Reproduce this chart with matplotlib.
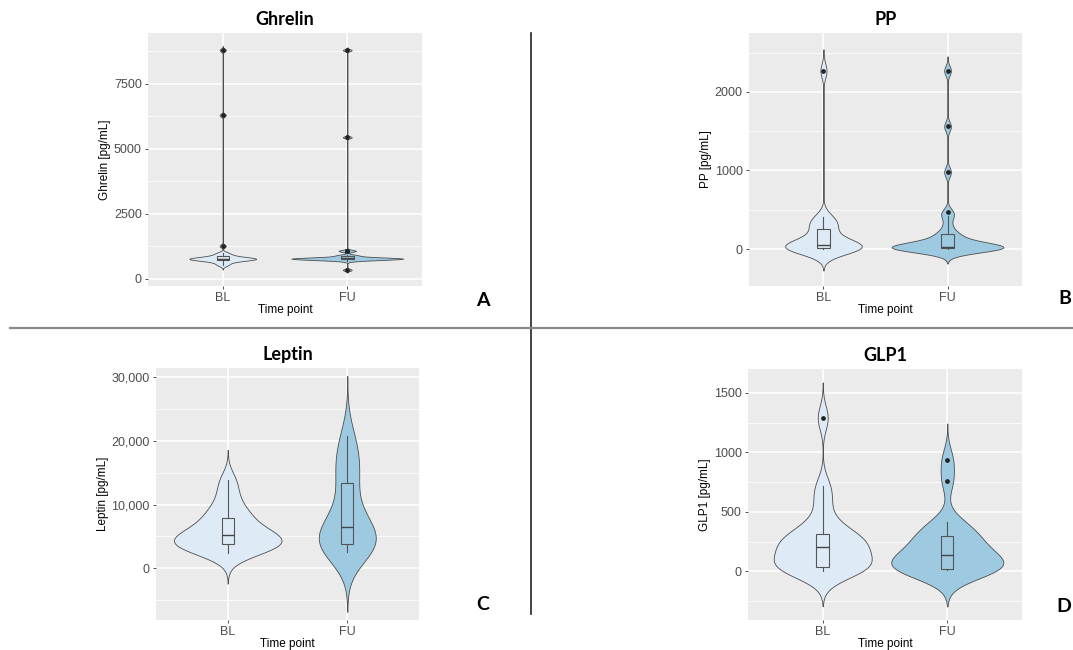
import numpy as np
import matplotlib.pyplot as plt
from matplotlib.lines import Line2D

plt.rcParams['font.family'] = ['Liberation Sans', 'DejaVu Sans']

groups = ['BL', 'FU']
fills = ['#deebf7', '#9ecae1']

# values (pg/mL)
ghrelin_bl = [520, 580, 640, 680, 705, 720, 735, 748, 758, 766, 774, 782,
              790, 800, 812, 828, 850, 875, 910, 960, 1010, 1270, 6300, 8800]
ghrelin_fu = [350, 705, 725, 740, 752, 760, 766, 771, 776, 780, 785, 790,
              795, 800, 806, 812, 820, 860, 900, 920, 1070, 1090, 5450, 8800]
pp_bl = [0, 2, 5, 8, 10, 15, 22, 30, 38, 42, 55, 80, 120, 180, 250, 290,
         330, 370, 410, 2270]
pp_fu = [0, 1, 3, 5, 8, 10, 12, 15, 18, 20, 22, 25, 28, 32, 40, 55, 80,
         110, 150, 180, 200, 300, 420, 470, 980, 1560, 2270]
leptin_bl = [2350, 2900, 3300, 3600, 3800, 4200, 4600, 5000, 5300, 5800,
             6500, 7700, 8400, 9500, 11500, 13820]
leptin_fu = [2550, 3000, 3400, 3650, 3900, 4300, 5000, 6000, 6900, 7800,
             9800, 13000, 14800, 16500, 18500, 20800]
glp1_bl = [6, 12, 20, 28, 34, 39, 70, 110, 150, 180, 206, 225, 250, 270,
           290, 311, 360, 450, 600, 719, 1290]
glp1_fu = [11, 13, 15, 17, 18, 19, 40, 60, 90, 120, 142, 160, 190, 230,
           270, 297, 330, 370, 414, 760, 938]

titles = ['Ghrelin', 'PP', 'Leptin', 'GLP1']
ylabels = ['Ghrelin [pg/mL]', 'PP [pg/mL]', 'Leptin [pg/mL]', 'GLP1 [pg/mL]']
letters = ['A', 'B', 'C', 'D']
yticks = [[0, 2500, 5000, 7500], [0, 1000, 2000],
          [0, 10000, 20000, 30000], [0, 500, 1000, 1500]]
yticklabels = [['0', '2500', '5000', '7500'], ['0', '1000', '2000'],
               ['0', '10,000', '20,000', '30,000'], ['0', '500', '1000', '1500']]
ylims = [(-270, 9460), (-470, 2750), (-8140, 31450), (-408, 1700)]
panels = [(ghrelin_bl, ghrelin_fu), (pp_bl, pp_fu),
          (leptin_bl, leptin_fu), (glp1_bl, glp1_fu)]

# axes boxes in pixels: left, top, right, bottom
W, H = 1073, 650
boxes = [(148, 33, 422, 286), (749, 33, 1022, 286),
         (156, 368, 419, 620), (748, 369, 1022, 620)]
letter_pos = [(483, 300), (1065, 298), (483, 604), (1064, 606)]


def nrd0(x):
    x = np.asarray(x, float)
    q1, q3 = np.percentile(x, [25, 75])
    lo = min(np.std(x, ddof=1), (q3 - q1) / 1.34)
    return 0.9 * lo * len(x) ** -0.2


def density(x):
    x = np.asarray(x, float)
    bw = nrd0(x)
    y = np.linspace(x.min() - 3 * bw, x.max() + 3 * bw, 512)
    d = np.exp(-0.5 * ((y[:, None] - x[None, :]) / bw) ** 2).sum(1)
    d /= len(x) * bw * np.sqrt(2 * np.pi)
    return y, d


fig = plt.figure(figsize=(W / 100, H / 100), dpi=100)

for i in range(4):
    l, t, r, b = boxes[i]
    ax = fig.add_axes([l / W, 1 - b / H, (r - l) / W, (b - t) / H])
    ax.set_facecolor('#ebebeb')
    for s in ax.spines.values():
        s.set_visible(False)
    ax.set_xlim(0.4, 2.6)
    ax.set_ylim(*ylims[i])

    # grid (ggplot grey theme)
    yt = yticks[i]
    step = yt[1] - yt[0]
    minor = np.arange(yt[0] - step / 2, ylims[i][1], step)
    for m in minor:
        ax.axhline(m, color='white', lw=0.6, zorder=0)
    for v in yt:
        ax.axhline(v, color='white', lw=1.1, zorder=0)
    for p in (1, 2):
        ax.axvline(p, color='white', lw=1.1, zorder=0)

    dens = [density(g) for g in panels[i]]
    dmax = max(d.max() for _, d in dens)
    for j, (y, d) in enumerate(dens):
        w = d / dmax * 0.45
        ax.fill_betweenx(y, j + 1 - w, j + 1 + w, facecolor=fills[j],
                         edgecolor='#4d4d4d', lw=0.6, zorder=2)

    ax.boxplot(panels[i], positions=[1, 2], widths=0.1, showcaps=False,
               patch_artist=True, manage_ticks=False,
               boxprops=dict(facecolor='none', edgecolor='#555555', lw=0.8),
               whiskerprops=dict(color='#555555', lw=0.8),
               medianprops=dict(color='#444444', lw=1.0),
               flierprops=dict(marker='o', markersize=2.4, markerfacecolor='#222222',
                               markeredgecolor='#222222'),
               zorder=3)

    ax.set_xticks([1, 2])
    ax.set_xticklabels(groups)
    ax.set_yticks(yt)
    ax.set_yticklabels(yticklabels[i])
    ax.tick_params(length=2.5, width=0.6, color='#333333', labelcolor='#4d4d4d',
                   labelsize=9, pad=2)
    ax.tick_params(axis='x', pad=1.5)
    ax.set_xlabel('Time point', fontsize=8.5, labelpad=0)
    ax.set_ylabel(ylabels[i], fontsize=8.5, labelpad=2)
    ax.set_title(titles[i], fontsize=13, fontweight='bold', family='Lato', pad=6)

    lx, ly = letter_pos[i]
    fig.text(lx / W, 1 - ly / H, letters[i], fontsize=14, fontweight='bold',
             family='Lato', ha='center', va='center')

# separators
fig.add_artist(Line2D([531 / W, 531 / W], [1 - 33 / H, 1 - 614 / H],
                      color='#222222', lw=1.2))
fig.add_artist(Line2D([10 / W, 1.0], [1 - 328 / H, 1 - 328 / H],
                      color='#888888', lw=1.6))

fig.savefig('out.png', dpi=100)
